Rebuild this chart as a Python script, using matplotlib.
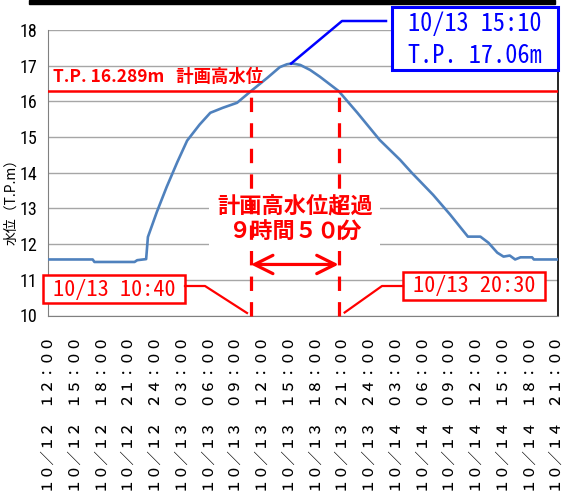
import matplotlib
matplotlib.use("Agg")
import matplotlib.pyplot as plt
from matplotlib import font_manager
from matplotlib.patches import Rectangle

# 水位観測データ（10/12 12:00 からの経過時間 [h]）
hours = [0.0, 4.9, 5.1, 9.6, 9.9, 10.9, 11.1, 12.1, 13.2, 14.4, 15.5, 16.9, 18.1, 19.5,
         21.1, 22.67, 24.5, 25.9, 26.7, 27.17, 27.6, 28.2, 29.3, 30.4, 32.5, 34.6, 37.1,
         39.4, 40.7, 41.4, 43.1, 45.0, 47.0, 48.4, 49.3, 50.3, 51.0, 51.7, 52.3, 52.9,
         54.2, 54.4, 57.1]
levels = [11.57, 11.57, 11.50, 11.50, 11.55, 11.58, 12.20, 12.90, 13.60, 14.30, 14.90,
          15.35, 15.68, 15.82, 15.96, 16.289, 16.66, 16.96, 17.04, 17.06, 17.05, 17.02,
          16.88, 16.69, 16.289, 15.68, 14.92, 14.36, 14.00, 13.82, 13.38, 12.83, 12.21,
          12.21, 12.04, 11.76, 11.65, 11.68, 11.57, 11.63, 11.63, 11.57, 11.57]

tick_hours = list(range(0, 58, 3))
tick_labels = ["10/12 12:00", "10/12 15:00", "10/12 18:00", "10/12 21:00", "10/12 24:00",
               "10/13 03:00", "10/13 06:00", "10/13 09:00", "10/13 12:00", "10/13 15:00",
               "10/13 18:00", "10/13 21:00", "10/13 24:00", "10/14 03:00", "10/14 06:00",
               "10/14 09:00", "10/14 12:00", "10/14 15:00", "10/14 18:00", "10/14 21:00"]

hwl = 16.289                      # 計画高水位
t_start, t_end = 22 + 40 / 60, 32.5   # 10/13 10:40 , 10/13 20:30
peak_h, peak_v = 27 + 10 / 60, 17.06  # 10/13 15:10


def find(name, stretch="normal"):
    try:
        return font_manager.findfont(
            font_manager.FontProperties(family=name, stretch=stretch),
            fallback_to_default=False)
    except ValueError:
        return None


def zenkaku(s):
    out = ""
    for c in s:
        if c == " ":
            out += "\u3000"
        else:
            out += chr(ord(c) + 0xFEE0)
    return out


JP = "Noto Sans CJK JP"
MONO = "Noto Sans Mono CJK JP" if find("Noto Sans Mono CJK JP") else "DejaVu Sans Mono"

# 目盛り数字は細めの書体
num_font = dict(family="Liberation Sans", size=10.5)
if find("Liberation Sans Narrow"):
    num_font = dict(family="Liberation Sans Narrow", size=13)
elif find("Roboto Condensed"):
    num_font = dict(family="Roboto Condensed", size=13)

plt.rcParams["font.family"] = [JP, "DejaVu Sans"]

W, H = 564, 496
fig = plt.figure(figsize=(W / 100, H / 100), dpi=100)
ax = fig.add_axes([48 / W, 1 - 315.5 / H, 510 / W, 285.5 / H])

ax.set_xlim(-0.11, 57.11)
ax.set_ylim(10, 18)
ax.set_yticks(range(10, 19))
ax.grid(axis="y", color="#a6a6a6", lw=1.0)
ax.set_axisbelow(True)
ax.tick_params(length=0)
ax.tick_params(axis="y", pad=7.5)
for lab in ax.get_yticklabels():
    lab.set_fontproperties(font_manager.FontProperties(**num_font))
ax.set_xticks(tick_hours)
ax.set_xticklabels([zenkaku(s) for s in tick_labels], rotation=90, fontsize=10.3,
                   fontfamily=JP, fontweight="medium")
ax.tick_params(axis="x", pad=15)

ax.spines["top"].set_visible(False)
ax.spines["left"].set_color("#808080")
ax.spines["bottom"].set_color("#808080")
ax.spines["right"].set_color("black")
ax.spines["right"].set_linewidth(1.2)

# 水位
ax.plot(hours, levels, color="#4f81bd", lw=1.9, zorder=3, solid_joinstyle="round")

# 計画高水位
ax.axhline(hwl, color="#ff0000", lw=1.8, zorder=4)
ax.text(0.45, 16.68, "T.P. 16.289m   計画高水位", color="#ff0000", fontsize=12.5,
        fontweight="bold", ha="left", va="center", zorder=5)

# 超過期間
for t in (t_start, t_end):
    ax.plot([t, t], [10, hwl], color="#ff0000", lw=2.3, linestyle=(0, (4.5, 3.5)),
            zorder=6, clip_on=False)
ax.annotate("", xy=(t_end, 11.43), xytext=(t_start, 11.43),
            arrowprops=dict(arrowstyle="<->,head_length=1.1,head_width=0.55",
                            color="#ff0000", lw=2.3, shrinkA=0, shrinkB=0,
                            mutation_scale=12), zorder=6)
ax.text((t_start + t_end) / 2, 12.69, "計画高水位超過\n９時間５０分", color="#ff0000",
        fontsize=16, fontweight="bold", ha="center", va="center", linespacing=1.1,
        bbox=dict(boxstyle="square,pad=0.35", fc="white", ec="none"), zorder=5)

fig.text(11 / W, 1 - 198 / H, "水位（T.P.m）", rotation=90, ha="center", va="center",
         fontsize=10)

# 注記（ピクセル座標）
ov = fig.add_axes([0, 0, 1, 1], zorder=10)
ov.set_xlim(0, W)
ov.set_ylim(H, 0)
ov.axis("off")
ov.patch.set_alpha(0)


def to_px(x, y):
    return ov.transData.inverted().transform(ax.transData.transform((x, y)))


ov.add_patch(Rectangle((29, 0), 526, 3.5, color="black"))

pk = to_px(peak_h, peak_v)
ov.plot([386, 342, pk[0]], [21, 21, pk[1]], color="#0000ff", lw=1.8)
ov.add_patch(Rectangle((392, 7), 166, 63, fc="white", ec="#0000ff", lw=2.2))
ov.text(475, 24, "10/13 15:10", color="#0000ff", fontsize=17.5, fontfamily=MONO,
        ha="center", va="center")
ov.text(475, 56, "T.P. 17.06m", color="#0000ff", fontsize=17.5, fontfamily=MONO,
        ha="center", va="center")

s = to_px(t_start, 10)
ov.plot([185, 205, s[0] - 4], [286, 286, s[1] - 2.5], color="#ff0000", lw=1.6)
ov.add_patch(Rectangle((43, 275), 142, 28, fc="white", ec="#ff0000", lw=1.8))
ov.text(114, 289.5, "10/13 10:40", color="#ff0000", fontsize=16, fontfamily=MONO,
        ha="center", va="center")

e = to_px(t_end, 10)
ov.plot([403, 382, e[0] + 6], [286, 286, e[1] - 3], color="#ff0000", lw=1.6)
ov.add_patch(Rectangle((403, 272), 142, 28, fc="white", ec="#ff0000", lw=1.8))
ov.text(474, 286.5, "10/13 20:30", color="#ff0000", fontsize=16, fontfamily=MONO,
        ha="center", va="center")

fig.savefig("out.png", dpi=100)
